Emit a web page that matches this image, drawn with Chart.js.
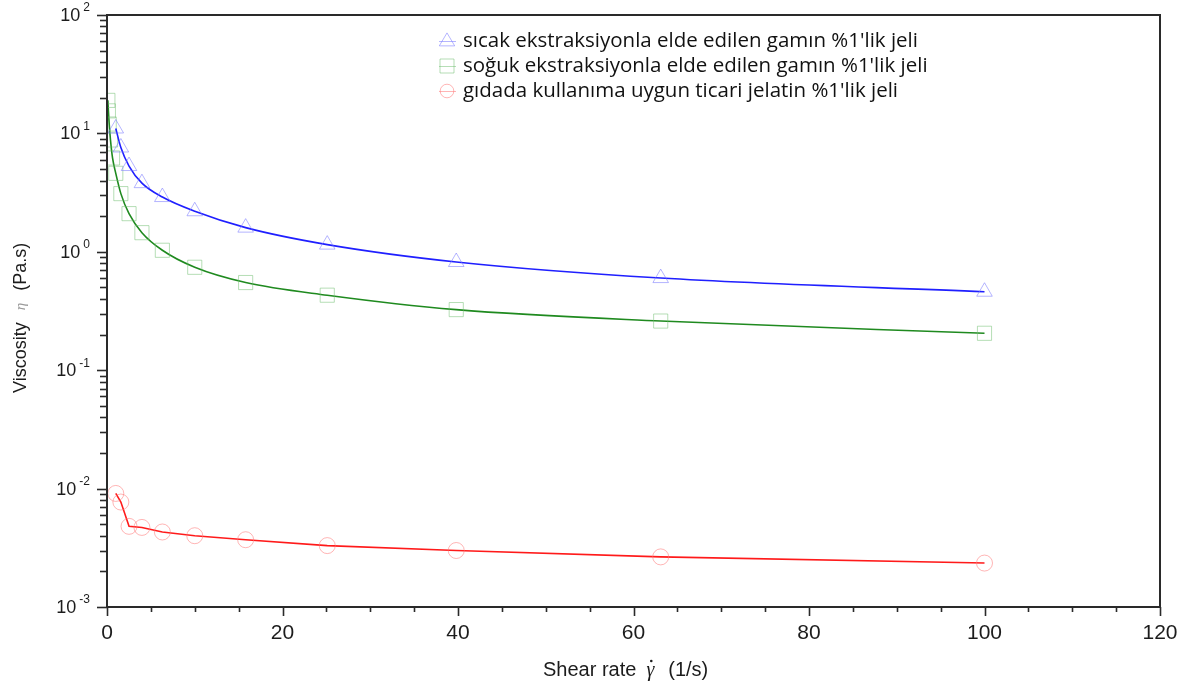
<!DOCTYPE html>
<html>
<head>
<meta charset="utf-8">
<script src="https://cdn.jsdelivr.net/npm/chart.js@4.4.1/dist/chart.umd.min.js"></script>
<style>
  html, body { margin: 0; padding: 0; background: #ffffff; }
  #wrap { width: 1187px; height: 686px; }
</style>
</head>
<body>
<div id="wrap"><canvas id="c" width="1187" height="686"></canvas></div>
<script>
// Shear rate (1/s) and viscosity (Pa.s) for each 1% gel
const shearHot = [1, 1.58, 2.51, 3.98, 6.31, 10, 15.8, 25.1, 39.8, 63.1, 100];
const viscosityHot = [11.0, 7.6, 5.3, 3.8, 2.9, 2.2, 1.6, 1.15, 0.82, 0.6, 0.46];

const shearCold = [0.1, 0.158, 0.251, 0.398, 0.631, 1, 1.58, 2.51, 3.98, 6.31, 10, 15.8, 25.1, 39.8, 63.1, 100];
const viscosityCold = [19, 15.5, 12, 8.8, 6.2, 4.6, 3.1, 2.1, 1.45, 1.03, 0.74, 0.55, 0.43, 0.325, 0.26, 0.205];

const shearGelatin = [1, 1.58, 2.51, 3.98, 6.31, 10, 15.8, 25.1, 39.8, 63.1, 100];
const viscosityGelatin = [0.0091, 0.0077, 0.0048, 0.0047, 0.0043, 0.0040, 0.0037, 0.0033, 0.0030, 0.00265, 0.00235];

const seriesNames = [
  "sıcak ekstraksiyonla elde edilen gamın %1'lik jeli",
  "soğuk ekstraksiyonla elde edilen gamın %1'lik jeli",
  "gıdada kullanıma uygun ticari jelatin %1'lik jeli"
];

// Axis ticks
const xTickValues = [0, 20, 40, 60, 80, 100, 120];
const xMinorStep = 5;
const yTickExponents = [-3, -2, -1, 0, 1, 2];

const toPoints = (xs, ys) => xs.map((x, i) => ({ x: x, y: ys[i] }));

const styles = [
  { line: '#1f1fff', mark: 'rgba(120,120,255,0.55)', shape: 'triangle', r: 9 },
  { line: '#1f8a1f', mark: 'rgba(110,190,110,0.5)', shape: 'rect', r: 10 },
  { line: '#ff1a1a', mark: 'rgba(255,120,120,0.55)', shape: 'circle', r: 8 }
];

const seriesData = [
  toPoints(shearHot, viscosityHot),
  toPoints(shearCold, viscosityCold),
  toPoints(shearGelatin, viscosityGelatin)
];

const datasets = seriesData.map((pts, i) => ({
  label: seriesNames[i],
  data: pts,
  borderColor: styles[i].line,
  borderWidth: 1.6,
  pointStyle: styles[i].shape,
  pointRadius: styles[i].r,
  pointBorderColor: styles[i].mark,
  pointBackgroundColor: 'rgba(0,0,0,0)',
  pointBorderWidth: 1,
  tension: i === 2 ? 0 : 0.4,
  cubicInterpolationMode: i === 2 ? 'default' : 'monotone',
  fill: false
}));

const AXIS_COLOR = '#2a2a2a';
const TEXT_COLOR = '#1c1c1c';
const LEGEND_TEXT_WIDTH = 455;

function drawMarker(ctx, shape, x, y, r, color) {
  ctx.save();
  ctx.strokeStyle = color;
  ctx.lineWidth = 1;
  ctx.beginPath();
  if (shape === 'triangle') {
    const h = r * 0.9;
    ctx.moveTo(x, y - h);
    ctx.lineTo(x + h * 0.95, y + h * 0.6);
    ctx.lineTo(x - h * 0.95, y + h * 0.6);
    ctx.closePath();
  } else if (shape === 'rect') {
    const s = r * 0.7;
    ctx.rect(x - s, y - s, 2 * s, 2 * s);
  } else {
    ctx.arc(x, y, r * 0.85, 0, Math.PI * 2);
  }
  ctx.stroke();
  ctx.restore();
}

const framePlugin = {
  id: 'frameAndLabels',
  afterDraw(chart) {
    const { ctx, chartArea: a, scales } = chart;
    const xs = scales.x, ys = scales.y;
    ctx.save();

    // Frame
    ctx.strokeStyle = AXIS_COLOR;
    ctx.lineWidth = 2;
    ctx.strokeRect(a.left, a.top, a.right - a.left, a.bottom - a.top);

    // X ticks
    ctx.lineWidth = 1.6;
    for (let v = xs.min; v <= xs.max + 1e-9; v += xMinorStep) {
      const px = Math.round(xs.getPixelForValue(v)) + 0.5;
      const major = xTickValues.includes(v);
      ctx.beginPath();
      ctx.moveTo(px, a.bottom);
      ctx.lineTo(px, a.bottom + (major ? 9 : 5));
      ctx.stroke();
    }
    ctx.fillStyle = TEXT_COLOR;
    ctx.font = '21px "Liberation Sans", Arial, sans-serif';
    ctx.textAlign = 'center';
    ctx.textBaseline = 'middle';
    xTickValues.forEach(v => {
      ctx.fillText(String(v), xs.getPixelForValue(v), 633);
    });

    // Y ticks (log decades with minor ticks)
    for (let e = yTickExponents[0]; e <= yTickExponents[yTickExponents.length - 1]; e++) {
      for (let m = 1; m <= 9; m++) {
        const val = m * Math.pow(10, e);
        if (val > ys.max * 1.0001) break;
        const py = Math.round(ys.getPixelForValue(val)) + 0.5;
        ctx.beginPath();
        ctx.moveTo(a.left, py);
        ctx.lineTo(a.left - (m === 1 ? 10 : 7), py);
        ctx.stroke();
      }
    }
    yTickExponents.forEach(e => {
      const py = ys.getPixelForValue(Math.pow(10, e));
      const expText = e < 0 ? '-' + Math.abs(e) : String(e);
      ctx.font = '18px "Liberation Sans", Arial, sans-serif';
      const wBase = ctx.measureText('10').width;
      ctx.font = '12px "Liberation Sans", Arial, sans-serif';
      const wExp = ctx.measureText(expText).width;
      const right = 90;
      const baseX = right - wExp - 3 - wBase;
      ctx.textAlign = 'left';
      ctx.textBaseline = 'middle';
      ctx.font = '18px "Liberation Sans", Arial, sans-serif';
      ctx.fillText('10', baseX, py + 1);
      ctx.font = '12px "Liberation Sans", Arial, sans-serif';
      ctx.fillText(expText, baseX + wBase + 3, py - 7);
    });

    // X axis title: "Shear rate  γ̇  (1/s)"
    ctx.textBaseline = 'middle';
    ctx.textAlign = 'left';
    let cx = 543;
    const ty = 670;
    ctx.font = '20px "Liberation Sans", Arial, sans-serif';
    ctx.fillText('Shear rate', cx, ty);
    cx += ctx.measureText('Shear rate').width + 10;
    ctx.font = 'italic 20px "Liberation Serif", "DejaVu Serif", serif';
    const wG = ctx.measureText('γ').width;
    ctx.fillText('γ', cx, ty + 1);
    ctx.beginPath();
    ctx.arc(cx + wG * 0.62, ty - 9, 1.3, 0, Math.PI * 2);
    ctx.fill();
    cx += wG + 14;
    ctx.font = '20px "Liberation Sans", Arial, sans-serif';
    ctx.fillText('(1/s)', cx, ty);

    // Y axis title (rotated)
    ctx.save();
    ctx.translate(21, 393);
    ctx.rotate(-Math.PI / 2);
    ctx.textAlign = 'left';
    ctx.textBaseline = 'middle';
    let cy = 0;
    ctx.font = '18px "Liberation Sans", Arial, sans-serif';
    ctx.fillStyle = TEXT_COLOR;
    ctx.fillText('Viscosity', cy, 0);
    cy += ctx.measureText('Viscosity').width + 12;
    ctx.font = 'italic 15px "Liberation Serif", "DejaVu Serif", serif';
    ctx.fillStyle = '#9a9a9a';
    ctx.fillText('η', cy, 0);
    cy += ctx.measureText('η').width + 12;
    ctx.font = '18px "Liberation Sans", Arial, sans-serif';
    ctx.fillStyle = TEXT_COLOR;
    ctx.fillText('(Pa.s)', cy, 0);
    ctx.restore();

    // Legend
    const rowsY = [41, 66, 91];
    ctx.font = '18px "Open Sans", Lato, sans-serif';
    const w0 = ctx.measureText(seriesNames[0]).width;
    const legendSize = Math.min(22, 18 * LEGEND_TEXT_WIDTH / w0);
    ctx.font = legendSize.toFixed(2) + 'px "Open Sans", Lato, sans-serif';
    ctx.textAlign = 'left';
    ctx.textBaseline = 'middle';
    seriesNames.forEach((name, i) => {
      const y = rowsY[i];
      const st = styles[i];
      ctx.strokeStyle = st.mark;
      ctx.lineWidth = 1;
      ctx.beginPath();
      ctx.moveTo(439, y + 0.5);
      ctx.lineTo(456, y + 0.5);
      ctx.stroke();
      drawMarker(ctx, st.shape, 447, y, st.r, st.mark);
      ctx.fillStyle = '#111111';
      ctx.fillText(name, 463, y);
    });

    ctx.restore();
  }
};

new Chart(document.getElementById('c'), {
  type: 'line',
  data: { datasets: datasets },
  options: {
    responsive: false,
    animation: false,
    layout: { padding: { left: 0, right: 27, top: 15, bottom: 0 } },
    plugins: {
      legend: { display: false },
      tooltip: { enabled: false }
    },
    scales: {
      x: {
        type: 'linear',
        min: 0,
        max: 120,
        grid: { display: false },
        border: { display: false },
        ticks: { display: false },
        afterFit(scale) { scale.height = 79; }
      },
      y: {
        type: 'logarithmic',
        min: 1e-3,
        max: 1e2,
        grid: { display: false },
        border: { display: false },
        ticks: { display: false },
        afterFit(scale) { scale.width = 107; }
      }
    }
  },
  plugins: [framePlugin]
});
</script>
</body>
</html>
